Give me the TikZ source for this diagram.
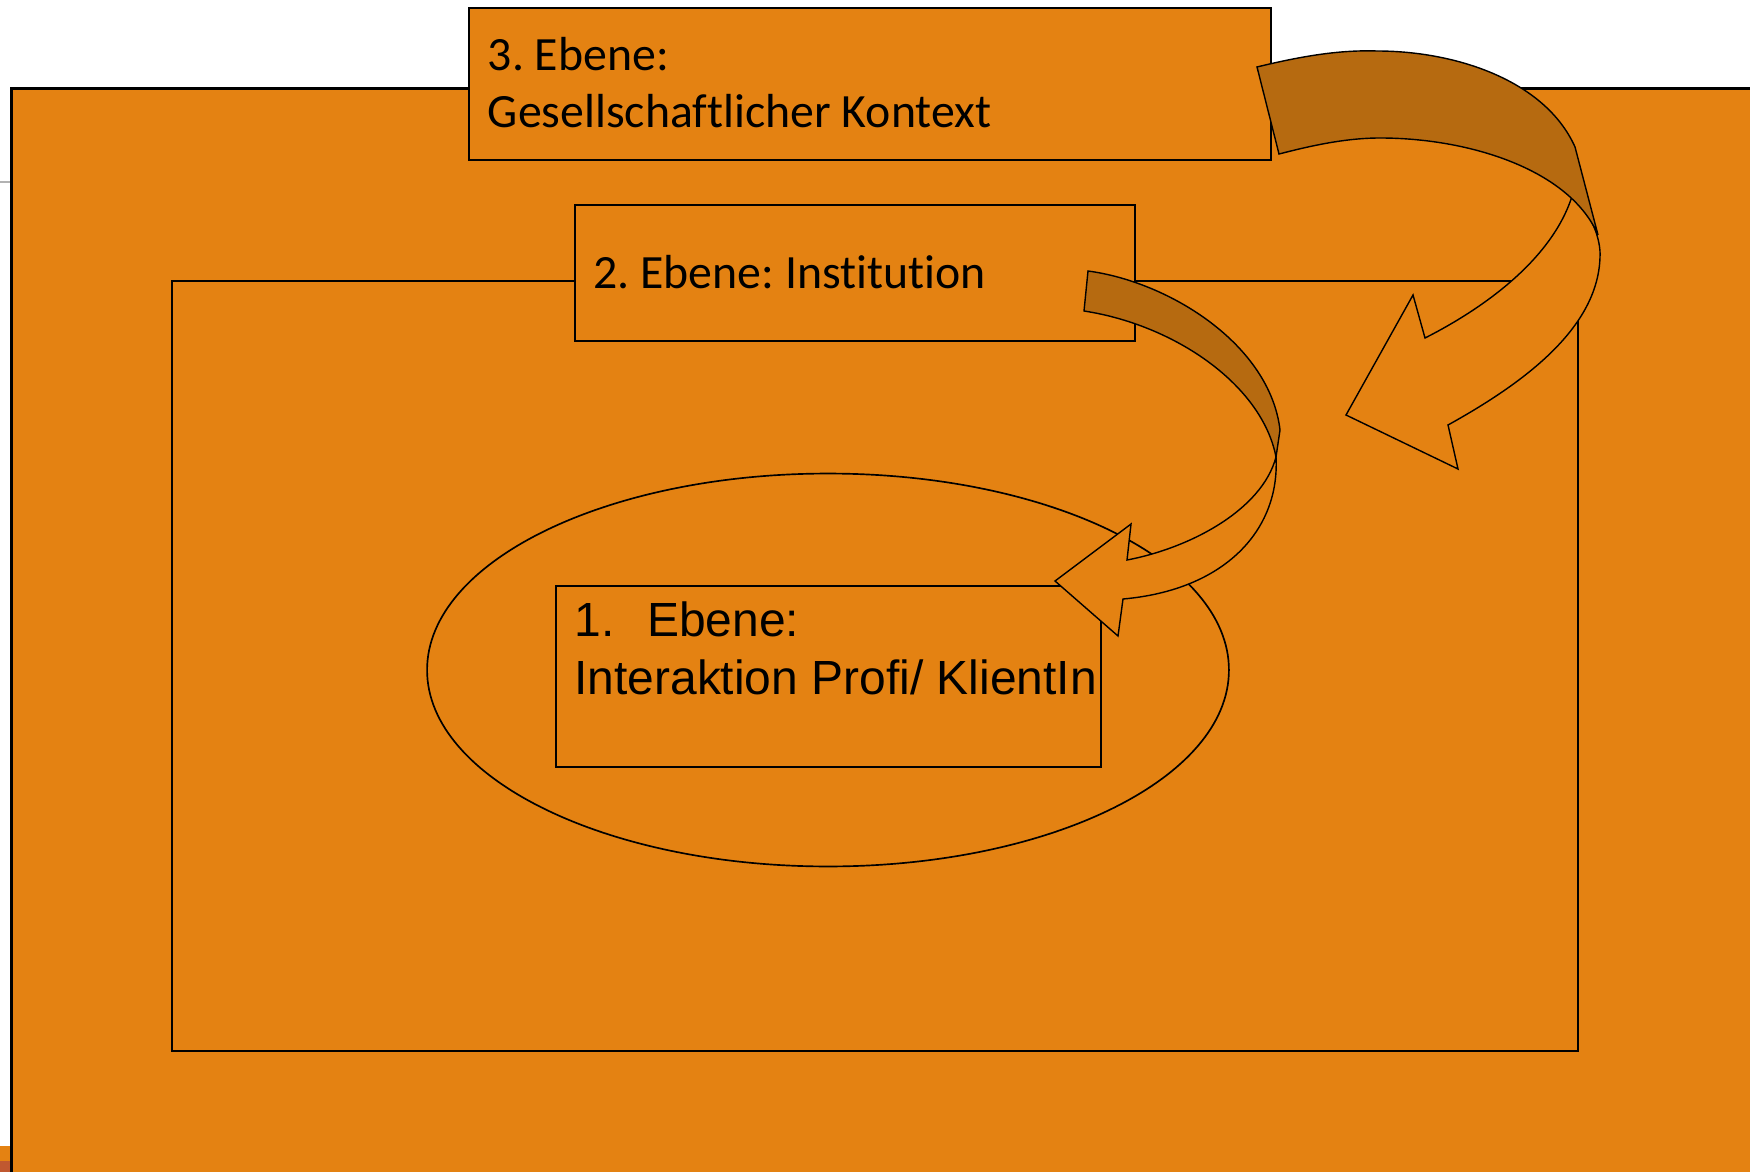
\documentclass[tikz,border=0pt]{standalone}
\usepackage{fontspec}
\setmainfont{Carlito}[Ligatures=NoCommon]
\newfontfamily\arialfont{Liberation Sans}
\usetikzlibrary{shapes.geometric}
\frenchspacing
\definecolor{ebeneorange}{RGB}{228,130,18}
\definecolor{banddunkel}{RGB}{182,106,16}
\definecolor{restrot}{RGB}{192,88,48}
\tikzstyle{rahmen} = [draw, fill=ebeneorange, line width=0.95pt]
\tikzstyle{kasten} = [rahmen, anchor=north west, inner sep=0pt]
\tikzstyle{schrift} = [anchor=base west, inner sep=0pt, align=left, font=\fontsize{27.2}{32.3}\selectfont]
\tikzstyle{pfeil} = [draw, fill=ebeneorange, line width=0.8pt, line join=miter]
\tikzstyle{pfeilband} = [pfeil, fill=banddunkel]
\newcommand{\ebenedrei}{3. Ebene:\\ Gesellschaftlicher Kontext}
\newcommand{\ebenezwei}{2. Ebene: Institution}
\newcommand{\ebeneeins}{\makebox[41.5pt][l]{1.}Ebene:\\ Interaktion Profi/ KlientIn}

\begin{document}
\begin{tikzpicture}[x=0.02cm, y=-0.02cm]
        \useasboundingbox (0,0) rectangle (1750,1172);
        \clip (0,0) rectangle (1750,1172);
        
        % Reste am linken Rand
        \draw[gray!60, line width=0.6pt] (0,182) -- (11,182);
        \fill[ebeneorange] (0,1146) rectangle (11,1161);
        \fill[restrot] (0,1161) rectangle (11,1172);
        
        \draw[rahmen, line width=1.2pt] (11.5,88.5) rectangle (1770,1190);
        \node[kasten, minimum width=16.04cm, minimum height=3.04cm] (kasten3) at (468,7) {};
        \draw[rahmen] (172,281) rectangle (1578,1051);
        \node[kasten, minimum width=11.2cm, minimum height=2.72cm] (kasten2) at (574,204) {};
        \node[rahmen, ellipse, inner sep=0pt, minimum width=16.04cm, minimum height=7.86cm] (kreis) at (828,670) {};
        \node[kasten, minimum width=10.9cm, minimum height=3.62cm] (kasten1) at (555,585) {};
        
        % base = letzte Zeile
        \node[schrift] (text3) at (487.5,127.7) {\ebenedrei};
        \node[schrift] (text2) at (593,288.3) {\ebenezwei};
        \node[schrift, font=\arialfont\fontsize{27.3}{33}\selectfont] (text1) at (574,694) {\ebeneeins};
        
        % Pfeil 3. Ebene
        \draw[pfeil] (1573,193) .. controls (1592,215) and (1601,240) .. (1600,257)
            .. controls (1598,330) and (1520,385) .. (1448,425)
            -- (1458,469) -- (1346,415) -- (1413,295) -- (1425,338)
            .. controls (1490,305) and (1555,255) .. (1573,193) -- cycle;
        \draw[pfeilband] (1257,67) .. controls (1310,54) and (1345,50) .. (1377,51)
            .. controls (1455,51) and (1545,80) .. (1575,147) -- (1598,235)
            .. controls (1570,170) and (1470,138) .. (1380,138)
            .. controls (1345,138) and (1310,146) .. (1279,154) -- cycle;
        
        % Pfeil 2. Ebene
        \draw[pfeil] (1276,457) .. controls (1280,530) and (1225,590) .. (1123,599)
            -- (1118,636) -- (1055,581) -- (1131,524) -- (1127,560)
            .. controls (1190,548) and (1262,510) .. (1276,457) -- cycle;
        \draw[pfeilband] (1088,271) .. controls (1170,282) and (1270,345) .. (1280,430) -- (1276,457)
            .. controls (1262,385) and (1175,325) .. (1084,311) -- cycle;
    \end{tikzpicture}
\end{document}
